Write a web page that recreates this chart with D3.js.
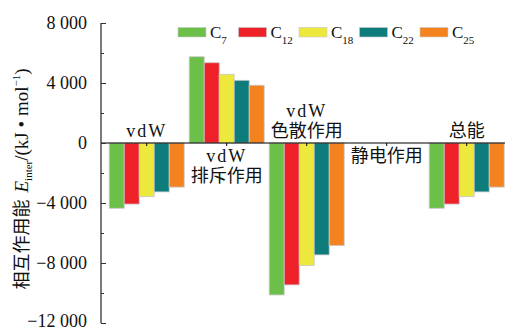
<!DOCTYPE html>
<html><head><meta charset="utf-8">
<script src="https://cdn.jsdelivr.net/npm/d3@7"></script>
<style>
html,body{margin:0;padding:0;background:#fff;}
svg{display:block;}
</style></head>
<body>
<svg id="chart" width="505" height="331"></svg>
<script>
// ---- data ----
const categories = ["vdW", "vdW排斥作用", "vdW色散作用", "静电作用", "总能"];
const categoryLabelLines = [["vdW"], ["vdW", "排斥作用"], ["vdW", "色散作用"], ["静电作用"], ["总能"]];
const seriesNames = ["7", "12", "18", "22", "25"]; // C subscript
const seriesColors = ["#6cc04a", "#ee2128", "#ede83c", "#0e7c7b", "#f4831f"];
const valuesVdW        = [-4350, -4070, -3580, -3260, -2940];
const valuesRepulsion  = [5750, 5350, 4580, 4180, 3850];
const valuesDispersion = [-10130, -9460, -8170, -7460, -6840];
const valuesElectro    = [0, 0, 0, 0, 0];
const valuesTotal      = [-4350, -4070, -3580, -3260, -2940];
const yTicks = [8000, 4000, 0, -4000, -8000, -12000];
const yMinorTicks = [6000, 2000, -2000, -6000, -10000];

const groupValues = [valuesVdW, valuesRepulsion, valuesDispersion, valuesElectro, valuesTotal];
const fmt = v => {
  const s = Math.abs(v) >= 1000 ? (Math.abs(v)/1000).toFixed(0) + " 000" : String(Math.abs(v));
  return (v < 0 ? "\u2212" : "") + s;
};

const svg = d3.select("#chart");
const serif = "'Liberation Serif','DejaVu Serif',serif";
const cjk = "'Noto Sans CJK SC','Noto Sans CJK JP',sans-serif";

const axisX = 101;
const y = d3.scaleLinear().domain([-12000, 8000]).range([323, 23]);
const x = d3.scaleBand().domain(categories).range([106.7, 506.7]).paddingInner(0).paddingOuter(0);
const groupW = 75;
const xs = d3.scaleBand().domain(seriesNames).range([0, groupW]);

// bars
const g = svg.append("g");
categories.forEach((c, ci) => {
  const gx = x(c) + (x.bandwidth() - groupW) / 2;
  g.selectAll(null).data(groupValues[ci].map((v, i) => ({v, i}))).enter()
    .filter(d => d.v !== 0)
    .append("rect")
    .attr("x", d => gx + xs(seriesNames[d.i]))
    .attr("width", xs.bandwidth())
    .attr("y", d => y(Math.max(0, d.v)))
    .attr("height", d => Math.abs(y(d.v) - y(0)))
    .attr("fill", d => seriesColors[d.i])
    .attr("stroke", "#c8c8c8")
    .attr("stroke-width", 0.8);
});

// zero line with category ticks
const zeroAxis = d3.axisBottom(x).tickSize(3).tickFormat("");
svg.append("g").attr("transform", `translate(0,${y(0)})`).call(zeroAxis)
  .call(s => s.select(".domain").attr("d", `M${axisX},0H505`).attr("stroke", "#000").attr("stroke-width", 1.2));

// y axis
const yAxis = d3.axisLeft(y).tickValues(yTicks).tickSize(-5).tickPadding(14).tickFormat(fmt);
const ya = svg.append("g").attr("transform", `translate(${axisX},0)`).call(yAxis);
ya.select(".domain").attr("d", `M0,${y(8000)}V${y(-12000)}`).attr("stroke", "#333").attr("stroke-width", 1.3);
ya.selectAll(".tick line").attr("stroke", "#333");
ya.selectAll(".tick text").attr("font-family", serif).attr("font-size", 18).attr("fill", "#111");
ya.selectAll(".tick text").filter(d => d === -12000).attr("dy", "0.2em");
const yMinor = d3.axisLeft(y).tickValues(yMinorTicks).tickSize(-3).tickFormat("");
const ym = svg.append("g").attr("transform", `translate(${axisX},0)`).call(yMinor);
ym.select(".domain").remove();
ym.selectAll(".tick line").attr("stroke", "#333");

// category labels
categories.forEach((c, ci) => {
  const vals = groupValues[ci];
  const neg = d3.sum(vals) <= 0 && d3.min(vals) < 0;
  const lines = categoryLabelLines[ci];
  const cx = x(c) + x.bandwidth() / 2;
  lines.forEach((ln, li) => {
    let by;
    if (neg) by = 137 - (lines.length - 1 - li) * 20;
    else by = 162 + li * 20;
    const isLatin = /^[A-Za-z]+$/.test(ln);
    svg.append("text").attr("x", cx).attr("y", by)
      .attr("text-anchor", "middle")
      .attr("font-family", isLatin ? serif : cjk)
      .attr("font-size", isLatin ? 18 : 18)
      .attr("letter-spacing", isLatin ? 2 : 0)
      .attr("fill", "#111")
      .text(ln);
  });
});

// legend
const leg = svg.append("g");
seriesNames.forEach((s, i) => {
  const lx = 178 + i * 60.5;
  leg.append("rect").attr("x", lx).attr("y", 27.5).attr("width", 28).attr("height", 9.5)
    .attr("fill", seriesColors[i]).attr("stroke", "#c8c8c8").attr("stroke-width", 0.6);
  const t = leg.append("text").attr("x", lx + 32).attr("y", 37.5)
    .attr("font-family", serif).attr("font-size", 17).attr("fill", "#111");
  t.append("tspan").text("C");
  t.append("tspan").attr("dy", 6).attr("font-size", 11).text(s);
});

// y axis title
const yt = svg.append("text")
  .attr("transform", `translate(28,179) rotate(-90)`)
  .attr("text-anchor", "middle")
  .attr("font-size", 18).attr("fill", "#111");
yt.append("tspan").attr("font-family", cjk).text("相互作用能");
yt.append("tspan").attr("font-family", serif).attr("font-style", "italic").attr("font-size", 19).attr("dx", 7).text("E");
yt.append("tspan").attr("font-family", serif).attr("font-size", 11).attr("dy", 4).text("inter");
yt.append("tspan").attr("font-family", serif).attr("font-size", 19).attr("dy", -4).text("/(kJ • mol");
yt.append("tspan").attr("font-family", serif).attr("font-size", 11).attr("dy", -8).text("−1");
yt.append("tspan").attr("font-family", serif).attr("font-size", 19).attr("dy", 8).text(")");
</script>
</body></html>
